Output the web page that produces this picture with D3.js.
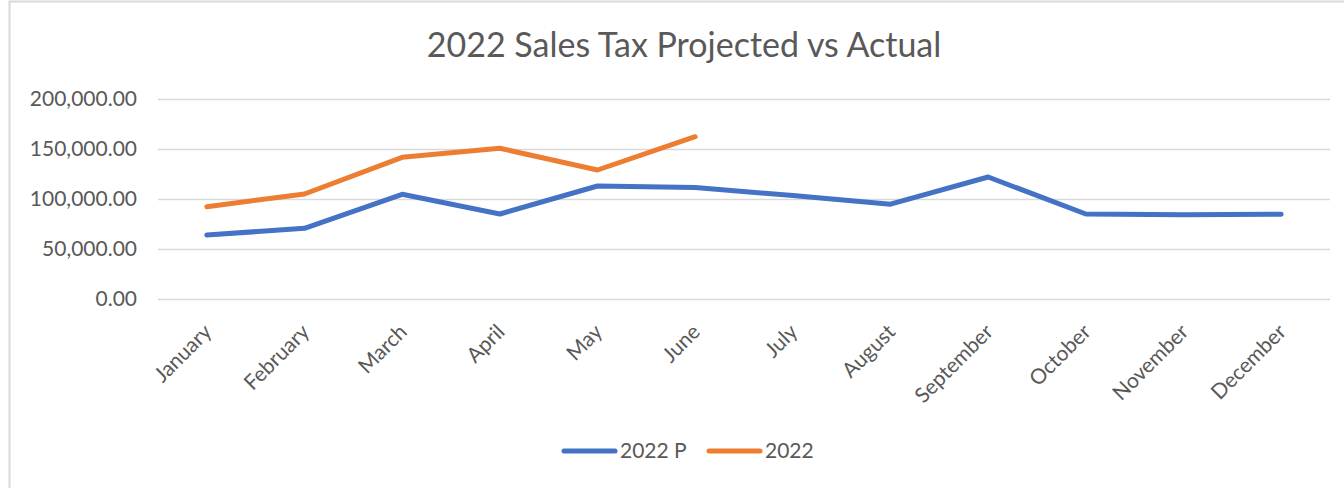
<!DOCTYPE html>
<html>
<head>
<meta charset="utf-8">
<script src="https://cdn.jsdelivr.net/npm/d3@7"></script>
<style>
  body { margin: 0; background: #fff; }
  text { font-family: Lato, "Open Sans", sans-serif; fill: #595959; }
</style>
</head>
<body>
<div id="chart"></div>
<script>
// data
const months = ["January", "February", "March", "April", "May", "June",
  "July", "August", "September", "October", "November", "December"];
const projected = [64000, 70700, 104700, 85000, 113000, 111500,
  103500, 94800, 122000, 85000, 84200, 84800];
const actual = [92300, 105000, 141700, 150700, 129000, 162300];
const yTicks = [0, 50000, 100000, 150000, 200000];
const seriesNames = ["2022 P", "2022"];
const colors = ["#4472C4", "#ED7D31"];

function drawChart(id) {
  let width = 1344, height = 488;
  let left = 158, right = 1330, top = 99, bottom = 299;

  let svg = d3.select(`#${id}`).append("svg")
    .attr("width", width).attr("height", height);

  svg.append("rect").attr("width", width).attr("height", height).attr("fill", "#fff");
  // chart area border (only left and top visible in the crop)
  svg.append("path")
    .attr("d", `M9.5,${height} V1.5 H${width}`)
    .attr("fill", "none").attr("stroke", "#d9d9d9").attr("stroke-width", 2);

  let x = d3.scalePoint().domain(months).range([left, right]).padding(0.5);
  let y = d3.scaleLinear().domain([0, 200000]).range([bottom, top]);

  svg.append("text")
    .attr("x", 684).attr("y", 57)
    .attr("text-anchor", "middle")
    .style("font-size", "34px")
    .text("2022 Sales Tax Projected vs Actual");

  // gridlines + y labels
  let yAxis = svg.append("g")
    .attr("transform", `translate(${left},0)`)
    .call(d3.axisLeft(y).tickValues(yTicks).tickSize(-(right - left))
      .tickPadding(21).tickFormat(d3.format(",.2f")));
  yAxis.select(".domain").remove();
  yAxis.selectAll("line").attr("stroke", "#d9d9d9").attr("stroke-width", 1.5);
  yAxis.selectAll("text").style("font-size", "21px").attr("fill", "#595959");

  // x labels
  svg.append("g").selectAll("text")
    .data(months)
    .join("text")
    .attr("text-anchor", "end")
    .attr("dy", "0.35em")
    .attr("transform", d => `translate(${x(d) + 1},${bottom + 29}) rotate(-45)`)
    .style("font-size", "21px")
    .text(d => d);

  let line = d3.line()
    .x((d, i) => x(months[i]))
    .y(d => y(d));

  [projected, actual].forEach((vals, k) => {
    svg.append("path")
      .datum(vals)
      .attr("d", line)
      .attr("fill", "none")
      .attr("stroke", colors[k])
      .attr("stroke-width", 5)
      .attr("stroke-linecap", "round")
      .attr("stroke-linejoin", "round");
  });

  // legend
  let legendX = [562, 707];
  seriesNames.forEach((name, k) => {
    let g = svg.append("g").attr("transform", `translate(${legendX[k]},451)`);
    g.append("line")
      .attr("x1", 2).attr("x2", 53)
      .attr("stroke", colors[k]).attr("stroke-width", 5)
      .attr("stroke-linecap", "round");
    g.append("text")
      .attr("x", 58).attr("dy", "0.35em")
      .style("font-size", "21px")
      .text(name);
  });
}

drawChart("chart");
</script>
</body>
</html>
